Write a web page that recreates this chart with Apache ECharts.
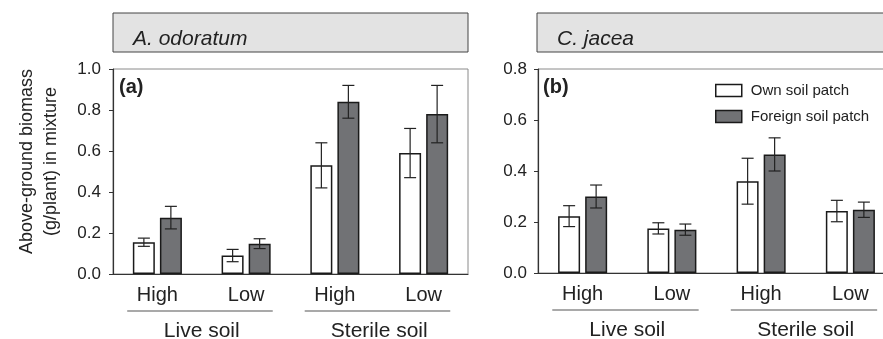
<!DOCTYPE html>
<html>
<head>
<meta charset="utf-8">
<script src="https://cdn.jsdelivr.net/npm/echarts@6/dist/echarts.min.js"></script>
<style>
  html, body { margin: 0; padding: 0; background: #fff; }
  #chart { width: 883px; height: 339px; }
</style>
</head>
<body>
<div id="chart"></div>
<script>
// data
let categories = ['Live High', 'Live Low', 'Sterile High', 'Sterile Low'];
let levels = ['High', 'Low', 'High', 'Low'];
let soils = ['Live soil', 'Sterile soil'];
let seriesNames = ['Own soil patch', 'Foreign soil patch'];
let species = ['A. odoratum', 'C. jacea'];
let panelTags = ['(a)', '(b)'];
let ticksA = [0, 0.2, 0.4, 0.6, 0.8, 1.0];
let ticksB = [0, 0.2, 0.4, 0.6, 0.8];

let odoratumOwn = [0.155, 0.09, 0.53, 0.59];
let odoratumOwnErr = [0.02, 0.03, 0.11, 0.12];
let odoratumForeign = [0.275, 0.148, 0.84, 0.78];
let odoratumForeignErr = [0.055, 0.024, 0.08, 0.14];

let jaceaOwn = [0.223, 0.175, 0.36, 0.243];
let jaceaOwnErr = [0.041, 0.022, 0.09, 0.042];
let jaceaForeign = [0.30, 0.17, 0.465, 0.248];
let jaceaForeignErr = [0.045, 0.022, 0.065, 0.03];

let font = '"Liberation Sans", Arial, sans-serif';
let ink = '#222';
let grey = '#717275';
let BAR_W = 22;
let BAR_GAP = 5;

function barSeries(gi, name, values, fill) {
  return {
    name: name,
    type: 'bar',
    xAxisIndex: gi,
    yAxisIndex: gi,
    barWidth: BAR_W,
    barGap: (BAR_GAP / BAR_W * 100).toFixed(0) + '%',
    itemStyle: {color: fill, borderColor: '#1a1a1a', borderWidth: 1.5},
    emphasis: {disabled: true},
    data: values
  };
}

function errorSeries(gi, own, ownErr, foreign, foreignErr) {
  let data = [];
  own.forEach((v, i) => data.push([i, v, ownErr[i], -1]));
  foreign.forEach((v, i) => data.push([i, v, foreignErr[i], 1]));
  return {
    type: 'custom',
    xAxisIndex: gi,
    yAxisIndex: gi,
    z: 5,
    silent: true,
    encode: {x: 0, y: 1},
    data: data,
    renderItem: function(params, api) {
      let x = api.coord([api.value(0), 0])[0] + api.value(3) * (BAR_W + BAR_GAP) / 2;
      let hi = api.coord([api.value(0), api.value(1) + api.value(2)])[1];
      let lo = api.coord([api.value(0), api.value(1) - api.value(2)])[1];
      let half = 6;
      let style = {stroke: ink, lineWidth: 1.2};
      return {
        type: 'group',
        children: [
          {type: 'line', shape: {x1: x, y1: hi, x2: x, y2: lo}, style: style},
          {type: 'line', shape: {x1: x - half, y1: hi, x2: x + half, y2: hi}, style: style},
          {type: 'line', shape: {x1: x - half, y1: lo, x2: x + half, y2: lo}, style: style}
        ]
      };
    }
  };
}

// soil group underline + label under each pair of categories
function groupSeries(gi) {
  return {
    type: 'custom',
    xAxisIndex: gi,
    yAxisIndex: gi,
    silent: true,
    clip: false,
    encode: {x: [0, 2], y: 1},
    data: soils.map((s, i) => [i * 2, 0, i * 2 + 1]),
    renderItem: function(params, api) {
      let a = api.coord([api.value(0), 0]);
      let b = api.coord([api.value(2), 0]);
      let band = api.size([1, 0])[0];
      let y = a[1] + 37;
      return {
        type: 'group',
        children: [
          {type: 'line', shape: {x1: a[0] - band * 0.34, y1: y, x2: b[0] + band * 0.3, y2: y},
            style: {stroke: '#555', lineWidth: 1.2}},
          {type: 'text', style: {text: soils[params.dataIndex], x: (a[0] + b[0]) / 2, y: y + 20,
            align: 'center', verticalAlign: 'middle', fontSize: 21, fontFamily: font, fill: ink}}
        ]
      };
    }
  };
}

function xAxis(gi) {
  return {
    type: 'category',
    gridIndex: gi,
    data: categories,
    axisLine: {lineStyle: {color: '#333', width: 1.2}},
    axisTick: {show: false},
    splitLine: {show: false},
    axisLabel: {
      interval: 0,
      margin: 11,
      fontSize: 20,
      fontFamily: font,
      color: ink,
      formatter: (v, i) => levels[i]
    }
  };
}

function yAxis(gi, ticks, margin) {
  return {
    type: 'value',
    gridIndex: gi,
    min: ticks[0],
    max: ticks[ticks.length - 1],
    interval: ticks[1] - ticks[0],
    axisLine: {show: true, lineStyle: {color: '#333', width: 1.2}},
    axisTick: {show: true, length: 4, lineStyle: {color: '#333'}},
    splitLine: {show: false},
    axisLabel: {
      margin: margin,
      fontSize: 17,
      fontFamily: font,
      color: ink,
      formatter: v => v.toFixed(1)
    }
  };
}

let yA = yAxis(0, ticksA, 12);
yA.name = 'Above-ground biomass\n(g/plant) in mixture';
yA.nameLocation = 'middle';
yA.nameRotate = 90;
yA.nameGap = 50;
yA.nameTextStyle = {fontSize: 18, fontFamily: font, color: ink, lineHeight: 24, padding: [0, 0, 0, 20]};

let grids = [
  {left: 113, top: 69, width: 355, height: 205},
  {left: 538, top: 69, width: 357, height: 204}
].map(g => Object.assign(g, {
  show: true, borderColor: '#8a8a8a', borderWidth: 1, backgroundColor: 'transparent', outerBoundsMode: 'none'
}));

let graphic = [];
let boxes = [[113, 355, 133], [537, 380, 557]];
boxes.forEach((b, i) => {
  graphic.push({type: 'rect', shape: {x: b[0], y: 13, width: b[1], height: 39},
    style: {fill: '#e3e3e3', stroke: '#444', lineWidth: 1}, z: 10});
  graphic.push({type: 'text', x: b[2], y: 39, z: 11,
    style: {text: species[i], fontSize: 21, fontStyle: 'italic', fontFamily: font, fill: ink, verticalAlign: 'middle'}});
  graphic.push({type: 'text', x: b[0] + 6, y: 87, z: 11,
    style: {text: panelTags[i], fontSize: 20, fontWeight: 'bold', fontFamily: font, fill: ink, verticalAlign: 'middle'}});
});

let myChart = echarts.init(document.getElementById('chart'), null, {renderer: 'canvas'});
myChart.setOption({
  animation: false,
  backgroundColor: '#fff',
  grid: grids,
  xAxis: [xAxis(0), xAxis(1)],
  yAxis: [yA, yAxis(1, ticksB, 11)],
  legend: {
    left: 715,
    top: 83,
    padding: 0,
    orient: 'vertical',
    itemWidth: 26,
    itemHeight: 12,
    itemGap: 11,
    selectedMode: false,
    textStyle: {fontSize: 15, fontFamily: font, color: ink, padding: [0, 0, 0, 4]},
    data: [
      {name: seriesNames[0], icon: 'rect', itemStyle: {color: '#fff', borderColor: '#1a1a1a', borderWidth: 1.5}},
      {name: seriesNames[1], icon: 'rect', itemStyle: {color: grey, borderColor: '#1a1a1a', borderWidth: 1.5}}
    ]
  },
  graphic: graphic,
  series: [
    barSeries(0, seriesNames[0], odoratumOwn, '#fff'),
    barSeries(0, seriesNames[1], odoratumForeign, grey),
    errorSeries(0, odoratumOwn, odoratumOwnErr, odoratumForeign, odoratumForeignErr),
    groupSeries(0),
    barSeries(1, seriesNames[0], jaceaOwn, '#fff'),
    barSeries(1, seriesNames[1], jaceaForeign, grey),
    errorSeries(1, jaceaOwn, jaceaOwnErr, jaceaForeign, jaceaForeignErr),
    groupSeries(1)
  ]
});
</script>
</body>
</html>
